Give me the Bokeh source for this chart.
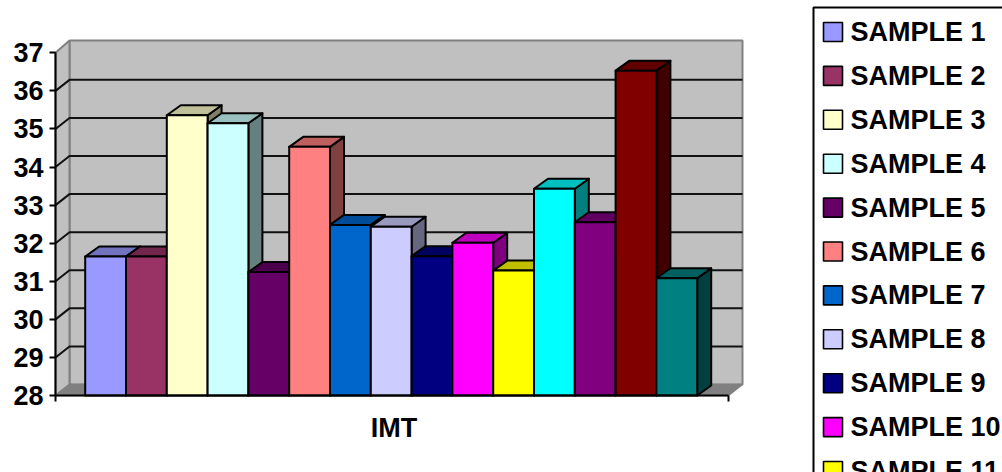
from bokeh.embed import file_html
from bokeh.models import FixedTicker, Range1d
from bokeh.plotting import figure
from bokeh.resources import INLINE
from bokeh.core.properties import value

# Series of the IMT chart
samples = [f"SAMPLE {i}" for i in range(1, 16)]
imt_values = [31.65, 31.65, 35.36, 35.15, 31.24, 34.53, 32.48, 32.43,
              31.66, 32.01, 31.28, 33.43, 32.55, 36.53, 31.08]
bar_colors = ["#9999FF", "#993366", "#FFFFCC", "#CCFFFF", "#660066", "#FF8080",
              "#0066CC", "#CCCCFF", "#000080", "#FF00FF", "#FFFF00", "#00FFFF",
              "#800080", "#800000", "#008080"]
category = "IMT"
y_ticks = list(range(28, 38))

# Layout, in page pixels
W, H = 1002, 472
AXIS_LEFT, AXIS_RIGHT = 55, 728
Y_BASE_PX, PX_PER_UNIT = 395, 38.08
BAR_LEFT, BAR_W = 84.7, 40.8
WALL_DX, WALL_DY = 14, 11
BAR_DX, BAR_DY = 14, 10
FONT = "Liberation Sans"


def shade(color, k):
    r, g, b = (int(color[i:i + 2], 16) for i in (1, 3, 5))
    return f"#{int(r * k):02x}{int(g * k):02x}{int(b * k):02x}"


y_min = y_ticks[0] - (H - Y_BASE_PX) / PX_PER_UNIT
y_max = y_ticks[0] + Y_BASE_PX / PX_PER_UNIT
p = figure(width=W, height=H, output_backend="svg", toolbar_location=None,
           x_range=Range1d(0, W), y_range=Range1d(y_min, y_max),
           min_border=0, outline_line_color=None, background_fill_color="white",
           x_axis_type="linear", y_axis_type="linear")
p.grid.visible = False
p.extra_y_ranges = {"page": Range1d(H, 0)}

base = y_ticks[0]
top = y_ticks[-1]
wall_dy = WALL_DY / PX_PER_UNIT
wall_top = top + 12.3 / PX_PER_UNIT
back_l, back_r = AXIS_LEFT + WALL_DX, AXIS_RIGHT + WALL_DX

# Back wall, side wall and floor
p.patch([back_l, back_r, back_r, back_l], [base + wall_dy, base + wall_dy, wall_top, wall_top],
        fill_color="#C0C0C0", line_color="#808080", line_width=2)
p.patch([AXIS_LEFT, back_l, back_l, AXIS_LEFT], [base, base + wall_dy, wall_top, top],
        fill_color="#C0C0C0", line_color="#808080", line_width=2)
p.patch([AXIS_LEFT, back_l, back_r, AXIS_RIGHT], [base, base + wall_dy, base + wall_dy, base],
        fill_color="#808080", line_color="#808080", line_width=1.5)

# Gridlines run along the back wall and fold down the side wall to each tick
inner = y_ticks[1:-1]
p.multi_line([[AXIS_LEFT, back_l, back_r] for _ in inner],
             [[v, v + wall_dy, v + wall_dy] for v in inner],
             line_color="#111111", line_width=2)

# Extruded bars, painted left to right so each one covers its neighbour's side
xs, ys, fills = [], [], []
bar_dx, bar_dy = BAR_DX, BAR_DY / PX_PER_UNIT
for i, (v, c) in enumerate(zip(imt_values, bar_colors)):
    x0 = BAR_LEFT + i * BAR_W
    x1 = x0 + BAR_W
    xs.append([x1, x1 + bar_dx, x1 + bar_dx, x1])
    ys.append([base, base + bar_dy, v + bar_dy, v])
    fills.append(shade(c, 0.5))
    xs.append([x0, x0 + bar_dx, x1 + bar_dx, x1])
    ys.append([v, v + bar_dy, v + bar_dy, v])
    fills.append(shade(c, 0.75))
    xs.append([x0, x1, x1, x0])
    ys.append([base, base, v, v])
    fills.append(c)
p.patches(xs, ys, fill_color=fills, line_color="black", line_width=2, line_join="round")

# Value axis on the front-left edge, category axis along the front of the floor
yaxis = p.yaxis[0]
yaxis.fixed_location = AXIS_LEFT
yaxis.bounds = (base, top)
yaxis.ticker = FixedTicker(ticks=y_ticks)
yaxis.axis_line_color = "black"
yaxis.axis_line_width = 2
yaxis.major_tick_line_color = "black"
yaxis.major_tick_line_width = 2
yaxis.major_tick_in = 0
yaxis.major_tick_out = 6
yaxis.minor_tick_line_color = None
yaxis.major_label_standoff = 6
yaxis.major_label_text_font = FONT
yaxis.major_label_text_font_style = "bold"
yaxis.major_label_text_font_size = "27px"
yaxis.major_label_text_color = "black"

xaxis = p.xaxis[0]
xaxis.fixed_location = base
xaxis.bounds = (AXIS_LEFT, AXIS_RIGHT)
xaxis.ticker = FixedTicker(ticks=[AXIS_LEFT, AXIS_RIGHT])
xaxis.axis_line_color = "black"
xaxis.axis_line_width = 2
xaxis.major_tick_line_color = "black"
xaxis.major_tick_line_width = 2
xaxis.major_tick_in = 0
xaxis.major_tick_out = 6
xaxis.minor_tick_line_color = None
xaxis.major_label_text_font_size = "0px"
xaxis.major_label_overrides = {AXIS_LEFT: "", AXIS_RIGHT: ""}

p.text([393.5], [427], text=[category], y_range_name="page", text_font=value(FONT),
       text_font_style="bold", text_font_size="27px", text_color="black",
       text_align="center", text_baseline="middle")

# Legend: its box and later rows run past the page edge
ROW0, ROW_H, SW = 31.5, 43.9, 19
shown = [i for i in range(len(samples)) if ROW0 + i * ROW_H - SW / 2 < H]
p.quad(left=[813], right=[W + 20], top=[7], bottom=[H + 20], y_range_name="page",
       fill_color="white", line_color="black", line_width=2)
cy = [ROW0 + i * ROW_H for i in shown]
p.quad(left=[823] * len(shown), right=[823 + SW] * len(shown),
       top=[y - SW / 2 for y in cy], bottom=[y + SW / 2 for y in cy],
       y_range_name="page", fill_color=[bar_colors[i] for i in shown],
       line_color="black", line_width=1.6)
p.text([850] * len(shown), cy, text=[samples[i] for i in shown], y_range_name="page",
       text_font=value(FONT), text_font_style="bold", text_font_size="27px",
       text_color="black", text_align="left", text_baseline="middle")

open("out.html", "w").write(file_html(p, INLINE))
